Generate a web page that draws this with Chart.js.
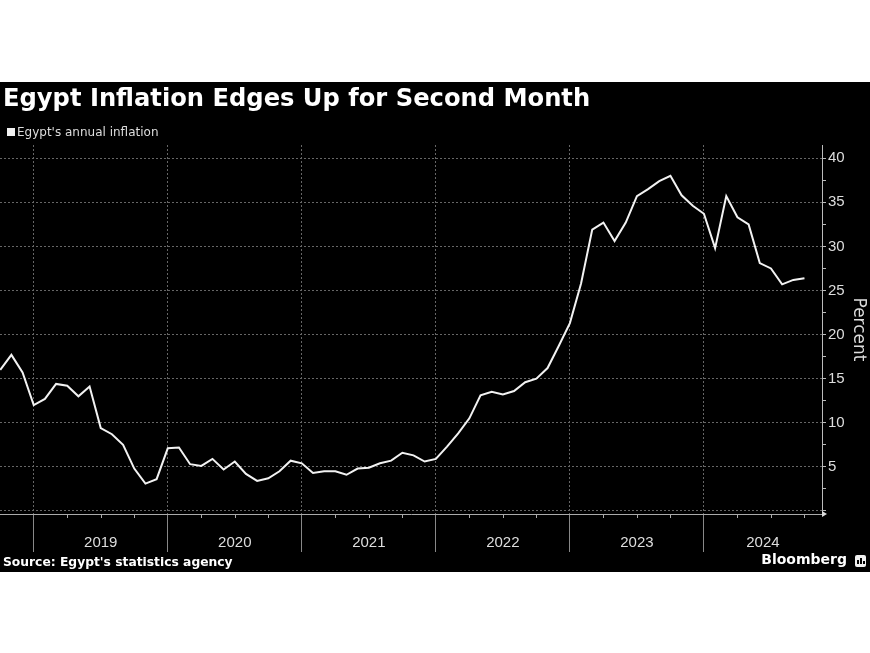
<!DOCTYPE html>
<html>
<head>
<meta charset="utf-8">
<script src="https://cdn.jsdelivr.net/npm/chart.js@4.4.1/dist/chart.umd.min.js"></script>
<style>
  body { margin: 0; background: #fff; width: 870px; height: 653px; position: relative; overflow: hidden; }
  #panel { position: absolute; left: 0; top: 82px; width: 870px; height: 490px; background: #000; }
  #chart { position: absolute; left: 0; top: 0; }
  .title { position: absolute; left: 3px; top: 2px; font: bold 24.2px "DejaVu Sans"; color: #fff; white-space: nowrap; }
  .legend { position: absolute; left: 17px; top: 43px; font: 12px "DejaVu Sans"; color: #ddd; white-space: nowrap; }
  .legend-box { position: absolute; left: 7px; top: 46px; width: 8px; height: 8px; background: #f2f2f2; }
  .source { position: absolute; left: 3px; top: 473px; font: bold 12.3px "DejaVu Sans"; color: #fff; white-space: nowrap; }
  .brand { position: absolute; right: 23px; top: 469px; font: bold 14px "DejaVu Sans"; color: #fff; white-space: nowrap; }
  .logo { position: absolute; left: 855px; top: 473px; width: 11px; height: 12px; background: #f0f0f0; border-radius: 2px; }
  .logo span { position: absolute; bottom: 3px; width: 2px; background: #000; }
</style>
</head>
<body>
<div id="panel">
  <canvas id="chart" width="870" height="490"></canvas>
  <div class="title">Egypt Inflation Edges Up for Second Month</div>
  <div class="legend-box"></div>
  <div class="legend">Egypt's annual inflation</div>
  <div class="source">Source: Egypt's statistics agency</div>
  <div class="brand">Bloomberg</div>
  <div class="logo"><span style="left:2px;height:4px"></span><span style="left:5px;height:6px"></span><span style="left:8px;height:3px"></span></div>
</div>
<script>
// month of each reading (plotted at month end)
const months = [
  "2018-09", "2018-10", "2018-11", "2018-12",
  "2019-01", "2019-02", "2019-03", "2019-04", "2019-05", "2019-06", "2019-07", "2019-08", "2019-09", "2019-10", "2019-11", "2019-12",
  "2020-01", "2020-02", "2020-03", "2020-04", "2020-05", "2020-06", "2020-07", "2020-08", "2020-09", "2020-10", "2020-11", "2020-12",
  "2021-01", "2021-02", "2021-03", "2021-04", "2021-05", "2021-06", "2021-07", "2021-08", "2021-09", "2021-10", "2021-11", "2021-12",
  "2022-01", "2022-02", "2022-03", "2022-04", "2022-05", "2022-06", "2022-07", "2022-08", "2022-09", "2022-10", "2022-11", "2022-12",
  "2023-01", "2023-02", "2023-03", "2023-04", "2023-05", "2023-06", "2023-07", "2023-08", "2023-09", "2023-10", "2023-11", "2023-12",
  "2024-01", "2024-02", "2024-03", "2024-04", "2024-05", "2024-06", "2024-07", "2024-08", "2024-09"
];

// Egypt's annual inflation, percent
const inflation = [
  16.0, 17.7, 15.7, 12.0,
  12.7, 14.4, 14.2, 13.0, 14.1, 9.4, 8.7, 7.5, 4.8, 3.1, 3.6, 7.1,
  7.2, 5.3, 5.1, 5.9, 4.7, 5.6, 4.2, 3.4, 3.7, 4.5, 5.7, 5.4,
  4.3, 4.5, 4.5, 4.1, 4.8, 4.9, 5.4, 5.7, 6.6, 6.3, 5.6, 5.9,
  7.3, 8.8, 10.5, 13.1, 13.5, 13.2, 13.6, 14.6, 15.0, 16.2, 18.7, 21.3,
  25.8, 31.9, 32.7, 30.6, 32.7, 35.7, 36.5, 37.4, 38.0, 35.8, 34.6, 33.7,
  29.8, 35.7, 33.3, 32.5, 28.1, 27.5, 25.7, 26.2, 26.4
];

const yearLabels = ["2019", "2020", "2021", "2022", "2023", "2024"];
const yLabelValues = [5, 10, 15, 20, 25, 30, 35, 40];

// x is counted in months from Jan 2019
const X_MIN = -3.02;
const X_MAX = 70.57;

function monthEnd(m) {
  const [y, mo] = m.split("-").map(Number);
  return (y - 2019) * 12 + mo;
}

const points = months.map((m, i) => ({ x: monthEnd(m), y: inflation[i] }));

const yearStarts = yearLabels.map(y => (Number(y) - 2019) * 12);
const yearMids = yearStarts.map(b => (b + Math.min(b + 12, X_MAX)) / 2);
const xTicks = yearStarts.concat(yearMids).sort((a, b) => a - b);

const quarterTicks = [];
for (let q = 3; q < X_MAX; q += 3) {
  if (q % 12 !== 0) quarterTicks.push(q);
}

const yTicks = [];
for (let v = 0; v <= 40; v += 2.5) yTicks.push(v);

const minorTicks = {
  id: "minorTicks",
  afterDraw(chart) {
    const xs = chart.scales.x;
    const ctx = chart.ctx;
    ctx.save();
    ctx.strokeStyle = "#aaa";
    ctx.lineWidth = 1;
    quarterTicks.forEach(q => {
      const px = Math.round(xs.getPixelForValue(q)) + 0.5;
      ctx.beginPath();
      ctx.moveTo(px, xs.top);
      ctx.lineTo(px, xs.top + 4);
      ctx.stroke();
    });
    // little arrow at the end of the axis
    ctx.fillStyle = "#ddd";
    ctx.beginPath();
    ctx.moveTo(xs.right, xs.top - 3);
    ctx.lineTo(xs.right + 5, xs.top);
    ctx.lineTo(xs.right, xs.top + 3);
    ctx.fill();
    ctx.restore();
  }
};

new Chart(document.getElementById("chart"), {
  type: "line",
  data: {
    datasets: [{
      label: "Egypt's annual inflation",
      data: points,
      borderColor: "#f2f2f2",
      borderWidth: 2,
      pointRadius: 0,
      tension: 0,
      fill: false
    }]
  },
  options: {
    responsive: false,
    animation: false,
    layout: { padding: { top: 63, bottom: 18, left: 0, right: 0 } },
    plugins: { legend: { display: false }, tooltip: { enabled: false } },
    scales: {
      x: {
        type: "linear",
        min: X_MIN,
        max: X_MAX,
        afterBuildTicks: s => { s.ticks = xTicks.map(v => ({ value: v })); },
        afterFit: s => { s.height = 40; },
        grid: {
          color: c => yearStarts.includes(c.tick.value) ? "#666" : "rgba(0,0,0,0)",
          tickColor: c => yearStarts.includes(c.tick.value) ? "#888" : "rgba(0,0,0,0)",
          tickLength: 38,
          tickBorderDash: []
        },
        border: { display: true, color: "#aaa", width: 1, dash: [2, 2] },
        ticks: {
          autoSkip: false,
          maxRotation: 0,
          padding: -18,
          color: "#ddd",
          font: { family: "Liberation Sans", size: 15 },
          callback: v => {
            const i = yearMids.indexOf(v);
            return i >= 0 ? yearLabels[i] : "";
          }
        }
      },
      y: {
        position: "right",
        min: -0.35,
        max: 41.5,
        afterBuildTicks: s => { s.ticks = yTicks.map(v => ({ value: v })); },
        afterFit: s => { s.width = 48; },
        grid: {
          color: c => c.tick.value % 5 === 0 ? "#666" : "rgba(0,0,0,0)",
          tickColor: "#bbb",
          tickLength: 4,
          tickBorderDash: []
        },
        border: { display: true, color: "#bbb", width: 1, dash: [2, 2] },
        ticks: {
          autoSkip: false,
          padding: 2,
          color: "#ddd",
          font: { family: "Liberation Sans", size: 15 },
          callback: v => yLabelValues.includes(v) ? String(v) : ""
        },
        title: {
          display: true,
          text: "Percent",
          color: "#ddd",
          font: { family: "DejaVu Sans", size: 17 },
          padding: { top: 1, bottom: 0 }
        }
      }
    }
  },
  plugins: [minorTicks]
});
</script>
</body>
</html>
